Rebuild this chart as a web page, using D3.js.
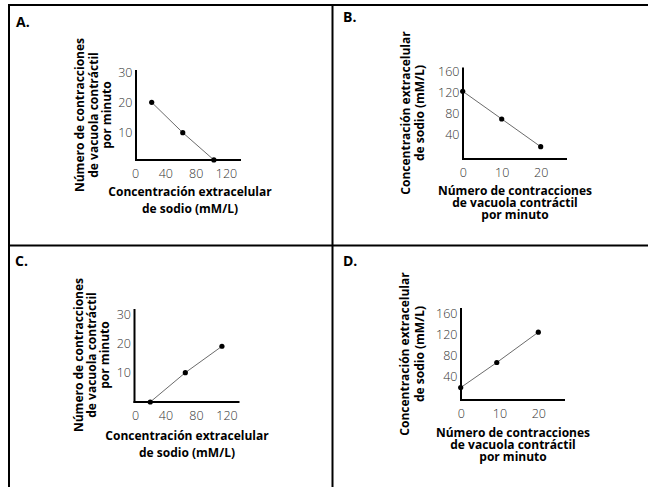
<!DOCTYPE html>
<html lang="es">
<head>
<meta charset="utf-8">
<script src="https://cdn.jsdelivr.net/npm/d3@7"></script>
<style>
  body { margin: 0; background: #fff; }
  svg { display: block; }
  text { font-family: "Open Sans", "Noto Sans", sans-serif; }
</style>
</head>
<body>
<script>
// tick labels
var concTicksX = [0, 40, 80, 120];
var contrTicksY = [10, 20, 30];
var contrTicksX = [0, 10, 20];
var concTicksY = [40, 80, 120, 160];

// axis titles
var concTitle = ['Concentración extracelular', 'de sodio (mM/L)'];
var contrTitle = ['Número de contracciones', 'de vacuola contráctil', 'por minuto'];

// data
var aConc = [22, 63, 104], aContr = [20, 10, 1];
var bContr = [0, 10, 20],  bConc = [122, 70, 18];
var cConc = [20, 66, 114], cContr = [0, 10, 19];
var dContr = [0, 9.3, 20], dConc = [18, 66, 124];

var W = 648, H = 487;
var svg = d3.select('body').append('svg')
    .attr('width', W)
    .attr('height', H);

// frame
var frame = svg.append('g').attr('stroke', '#000').attr('stroke-width', 2);
frame.append('line').attr('x1', 9).attr('x2', W).attr('y1', 5).attr('y2', 5);
frame.append('line').attr('x1', 9).attr('x2', 9).attr('y1', 4).attr('y2', H);
frame.append('line').attr('x1', 332.5).attr('x2', 332.5).attr('y1', 4).attr('y2', H);
frame.append('line').attr('x1', 9).attr('x2', W).attr('y1', 245.5).attr('y2', 245.5);

var panels = [
    {letter: 'A.', lx: 16, ly: 27, xs: aConc, ys: aContr,
     xDom: [0, 120], xRange: [135, 226], xTicks: concTicksX,
     yDom: [0, 30], yRange: [163, 72], yTicks: contrTicksY,
     axX: 136, axY: 160, axTop: 70, axRight: 241,
     xTitle: concTitle, xtX: 190, xtY: 192, xtGap: 17,
     yTitle: contrTitle, ytX: 80, ytY: 115, ytGap: 13.5},
    {letter: 'B.', lx: 343, ly: 22, xs: bContr, ys: bConc,
     xDom: [0, 20], xRange: [462.7, 540.7], xTicks: contrTicksX,
     yDom: [0, 160], yRange: [156.3, 71], yTicks: concTicksY,
     axX: 463, axY: 159, axTop: 67.5, axRight: 567,
     xTitle: contrTitle, xtX: 515, xtY: 191.2, xtGap: 12,
     yTitle: concTitle, ytX: 406, ytY: 113, ytGap: 13.5},
    {letter: 'C.', lx: 15, ly: 266, xs: cConc, ys: cContr,
     xDom: [0, 120], xRange: [135, 226.5], xTicks: concTicksX,
     yDom: [0, 30], yRange: [402, 314], yTicks: contrTicksY,
     axX: 134.5, axY: 402, axTop: 309, axRight: 239.5,
     xTitle: concTitle, xtX: 187, xtY: 435.5, xtGap: 17.5,
     yTitle: contrTitle, ytX: 79, ytY: 355, ytGap: 13.2},
    {letter: 'D.', lx: 343, ly: 266, xs: dContr, ys: dConc,
     xDom: [0, 20], xRange: [460.7, 538.3], xTicks: contrTicksX,
     yDom: [0, 160], yRange: [397, 313.4], yTicks: concTicksY,
     axX: 461, axY: 400, axTop: 308, axRight: 565,
     xTitle: contrTitle, xtX: 513, xtY: 433, xtGap: 12,
     yTitle: concTitle, ytX: 405, ytY: 354, ytGap: 15}
];

// multi-line title as one text element with tspans
function multiLine(sel, lines, gap) {
    sel.selectAll('tspan')
        .data(lines)
        .enter()
        .append('tspan')
        .attr('x', 0)
        .attr('y', function (d, i) { return i * gap; })
        .attr('dy', '0.34em')
        .text(function (d) { return d; });
}

panels.forEach(function (p) {
    var g = svg.append('g');
    var x = d3.scaleLinear().domain(p.xDom).range(p.xRange);
    var y = d3.scaleLinear().domain(p.yDom).range(p.yRange);

    g.append('text')
        .attr('x', p.lx)
        .attr('y', p.ly)
        .attr('font-size', 14)
        .attr('font-weight', 700)
        .text(p.letter);

    // tick labels via d3 axes, no tick marks or domain
    var ax = g.append('g')
        .attr('transform', 'translate(0,' + p.axY + ')')
        .call(d3.axisBottom(x).tickValues(p.xTicks).tickSize(0).tickPadding(9).tickFormat(d3.format('d')));
    var ay = g.append('g')
        .attr('transform', 'translate(' + p.axX + ',0)')
        .call(d3.axisLeft(y).tickValues(p.yTicks).tickSize(0).tickPadding(3.5).tickFormat(d3.format('d')));
    [ax, ay].forEach(function (a) {
        a.select('.domain').remove();
        a.selectAll('text')
            .attr('font-family', '"Open Sans", "Noto Sans", sans-serif')
            .attr('font-size', 12.5)
            .attr('font-weight', 300)
            .attr('fill', '#333');
    });

    // axis lines
    g.append('line')
        .attr('x1', p.axX).attr('x2', p.axX)
        .attr('y1', p.axTop).attr('y2', p.axY + 1)
        .attr('stroke', '#000').attr('stroke-width', 2);
    g.append('line')
        .attr('x1', p.axX - 1).attr('x2', p.axRight)
        .attr('y1', p.axY).attr('y2', p.axY)
        .attr('stroke', '#000').attr('stroke-width', 2);

    var pts = p.xs.map(function (v, i) { return [v, p.ys[i]]; });

    g.append('path')
        .datum(pts)
        .attr('fill', 'none')
        .attr('stroke', '#6b6b6b')
        .attr('stroke-width', 1)
        .attr('d', d3.line()
            .x(function (d) { return x(d[0]); })
            .y(function (d) { return y(d[1]); }));

    g.selectAll('circle')
        .data(pts)
        .enter()
        .append('circle')
        .attr('cx', function (d) { return x(d[0]); })
        .attr('cy', function (d) { return y(d[1]); })
        .attr('r', 2.6)
        .attr('fill', '#000');

    // x title
    g.append('text')
        .attr('transform', 'translate(' + p.xtX + ',' + p.xtY + ')')
        .attr('text-anchor', 'middle')
        .attr('font-size', 12)
        .attr('font-weight', 700)
        .call(multiLine, p.xTitle, p.xtGap);

    // y title, rotated
    g.append('text')
        .attr('transform', 'translate(' + p.ytX + ',' + p.ytY + ') rotate(-90)')
        .attr('text-anchor', 'middle')
        .attr('font-size', 12)
        .attr('font-weight', 700)
        .call(multiLine, p.yTitle, p.ytGap);
});
</script>
</body>
</html>
